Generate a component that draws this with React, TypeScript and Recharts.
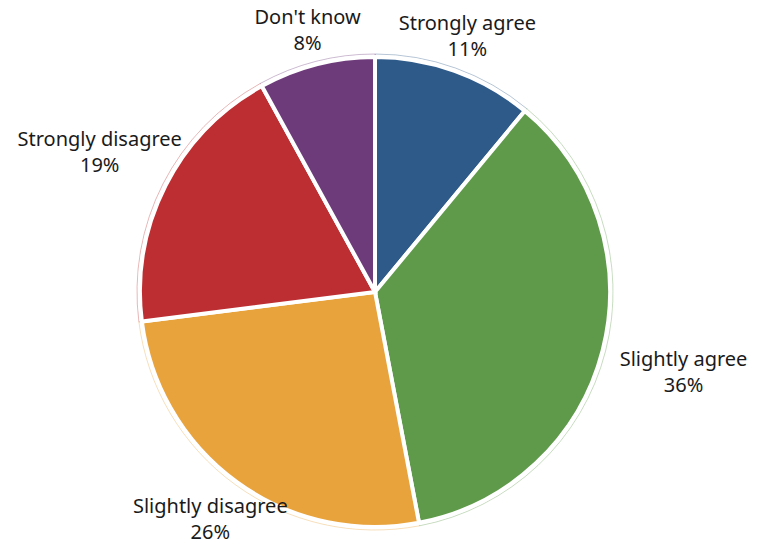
import { PieChart, Pie, Cell } from "recharts";

const labels = ["Strongly agree", "Slightly agree", "Slightly disagree", "Strongly disagree", "Don't know"];
const shares = [11, 36, 26, 19, 8];
const colors = ["#2E5A8A", "#5E9A4A", "#E8A33D", "#BC2E31", "#6E3B7A"];

const data = labels.map((name, i) => ({ name, value: shares[i] }));

const FONT = "'Noto Sans', sans-serif";
const FS = 20;
const LH = 26;
const RAD = Math.PI / 180;

let ctx: CanvasRenderingContext2D | null = null;
function textWidth(t: string) {
  if (!ctx) ctx = document.createElement("canvas").getContext("2d");
  if (!ctx) return t.length * FS * 0.5;
  ctx.font = `${FS}px ${FONT}`;
  return ctx.measureText(t).width;
}

function renderLabel(props: any) {
  const { cx, cy, midAngle, outerRadius, name, value } = props;
  const cos = Math.cos(-midAngle * RAD);
  const sin = Math.sin(-midAngle * RAD);
  const w = Math.max(textWidth(name), textWidth(`${value}%`));
  const h = LH * 2;
  const toEdge = Math.min(
    Math.abs(cos) > 0.001 ? w / 2 / Math.abs(cos) : 1e9,
    Math.abs(sin) > 0.001 ? h / 2 / Math.abs(sin) : 1e9
  );
  const d = outerRadius + 6 + 12 * Math.abs(cos) + toEdge;
  const x = cx + d * cos;
  const y = cy + d * sin;
  return (
    <g>
      <text x={x} y={y - LH / 2} textAnchor="middle" dominantBaseline="central" fill="#1a1a1a" fontSize={FS} fontFamily={FONT}>
        {name}
      </text>
      <text x={x} y={y + LH / 2} textAnchor="middle" dominantBaseline="central" fill="#1a1a1a" fontSize={FS} fontFamily={FONT}>
        {`${value}%`}
      </text>
    </g>
  );
}

export default function App() {
  return (
    <div style={{ position: "absolute", left: 0, top: 0, background: "#fff" }}>
      <PieChart width={758} height={560}>
        <Pie
          data={data}
          dataKey="value"
          cx={370}
          cy={287}
          outerRadius={238}
          startAngle={90}
          endAngle={-270}
          fill="#fff"
          isAnimationActive={false}
          label={false}
          labelLine={false}
        >
          {data.map((d, i) => (
            <Cell key={d.name} fill="#fff" stroke={colors[i]} strokeOpacity={0.35} strokeWidth={1} />
          ))}
        </Pie>
        <Pie
          data={data}
          dataKey="value"
          cx={370}
          cy={287}
          outerRadius={235}
          startAngle={90}
          endAngle={-270}
          isAnimationActive={false}
          label={renderLabel}
          labelLine={false}
        >
          {data.map((d, i) => (
            <Cell key={d.name} fill={colors[i]} stroke="#fff" strokeWidth={4} />
          ))}
        </Pie>
      </PieChart>
    </div>
  );
}
